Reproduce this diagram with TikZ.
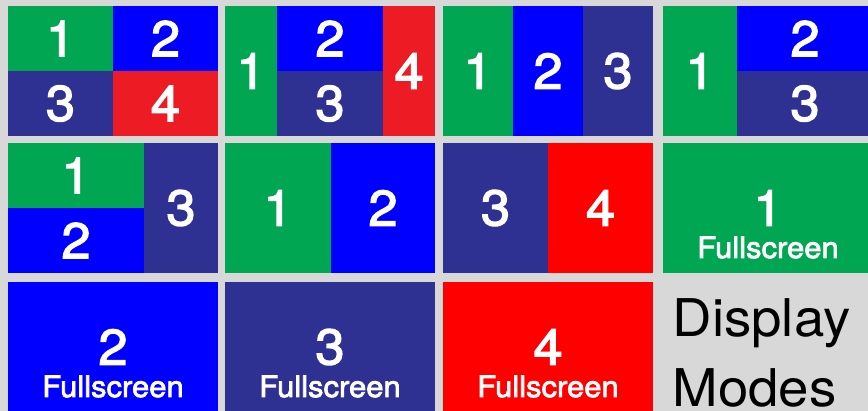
\documentclass[tikz,border=0pt]{standalone}
\usepackage{fontspec}
\setmainfont{TeX Gyre Heros}
\newfontfamily\tilefont[FakeBold=2.5, FakeStretch=1.05]{TeX Gyre Heros}
\newfontfamily\titlefont[FakeStretch=1.05]{TeX Gyre Heros}
\usepackage{tikz}
\usetikzlibrary{positioning}
\definecolor{bggray}{RGB}{216,216,216}
\definecolor{modegreen}{RGB}{0,166,81}
\definecolor{modeblue}{RGB}{0,0,255}
\definecolor{modenavy}{RGB}{46,49,146}
\definecolor{modered}{RGB}{237,28,36}
\definecolor{fullred}{RGB}{255,0,0}
\tikzset{
  tile/.style={anchor=north west, inner sep=0pt, outer sep=0pt,
    text=white, font=\tilefont\fontsize{50}{50}\selectfont},
  fslabel/.style={anchor=base, inner sep=0pt, text=white,
    font=\tilefont\fontsize{29.5}{30}\selectfont},
  title/.style={anchor=base west, inner sep=0pt, align=left,
    font=\titlefont\fontsize{52}{70}\selectfont}
}

\begin{document}
\begin{tikzpicture}[x=1pt, y=-1pt]
  \fill[bggray] (0,0) rectangle (868,411);
  \useasboundingbox (0,0) rectangle (868,411);
  \clip (0,0) rectangle (868,411);

  % Quad split
  \node[tile, fill=modegreen, minimum width=105pt, minimum height=65pt] (quad1) at (8,6) {1};
  \node[tile, fill=modeblue, minimum width=105pt, minimum height=65pt] (quad2) at (quad1.north east) {2};
  \node[tile, fill=modenavy, minimum width=105pt, minimum height=65pt] (quad3) at (quad1.south west) {3};
  \node[tile, fill=modered, minimum width=105pt, minimum height=65pt] (quad4) at (quad3.north east) {4};

  % Side columns with stacked middle
  \node[tile, fill=modegreen, minimum width=52pt, minimum height=130pt] (side1) at (225,6) {1};
  \node[tile, fill=modeblue, minimum width=106pt, minimum height=65pt] (side2) at (side1.north east) {2};
  \node[tile, fill=modenavy, minimum width=106pt, minimum height=65pt] (side3) at (side2.south west) {3};
  \node[tile, fill=modered, minimum width=52pt, minimum height=130pt] (side4) at (side2.north east) {4};

  % Three columns
  \node[tile, fill=modegreen, minimum width=70pt, minimum height=130pt] (tri1) at (443,6) {1};
  \node[tile, fill=modeblue, minimum width=70pt, minimum height=130pt] (tri2) at (tri1.north east) {2};
  \node[tile, fill=modenavy, minimum width=70pt, minimum height=130pt] (tri3) at (tri2.north east) {3};

  % Left column, right stack
  \node[tile, fill=modegreen, minimum width=74pt, minimum height=130pt] (lft1) at (663,6) {1};
  \node[tile, fill=modeblue, minimum width=136pt, minimum height=65pt] (lft2) at (lft1.north east) {2};
  \node[tile, fill=modenavy, minimum width=136pt, minimum height=65pt] (lft3) at (lft2.south west) {3};

  % Left stack, right column
  \node[tile, fill=modegreen, minimum width=136pt, minimum height=65pt] (rgt1) at (8,143) {1};
  \node[tile, fill=modeblue, minimum width=136pt, minimum height=65pt] (rgt2) at (rgt1.south west) {2};
  \node[tile, fill=modenavy, minimum width=74pt, minimum height=130pt] (rgt3) at (rgt1.north east) {3};

  % Two halves
  \node[tile, fill=modegreen, minimum width=106pt, minimum height=130pt] (duoA1) at (225,143) {1};
  \node[tile, fill=modeblue, minimum width=104pt, minimum height=130pt] (duoA2) at (duoA1.north east) {2};
  \node[tile, fill=modenavy, minimum width=105pt, minimum height=130pt] (duoB3) at (443,143) {3};
  \node[tile, fill=fullred, minimum width=105pt, minimum height=130pt] (duoB4) at (duoB3.north east) {4};

  % Fullscreen modes
  \node[tile, fill=modegreen, minimum width=210pt, minimum height=130pt] (full1) at (663,143) {1};
  \node[tile, fill=modeblue, minimum width=210pt, minimum height=130pt] (full2) at (8,282) {2};
  \node[tile, fill=modenavy, minimum width=210pt, minimum height=130pt] (full3) at (225,282) {3};
  \node[tile, fill=fullred, minimum width=210pt, minimum height=130pt] (full4) at (443,282) {4};
  \node[fslabel] (full1lbl) at ([yshift=-50pt]full1.center) {Fullscreen};
  \node[fslabel] (full2lbl) at ([yshift=-50pt]full2.center) {Fullscreen};
  \node[fslabel] (full3lbl) at ([yshift=-50pt]full3.center) {Fullscreen};
  \node[fslabel] (full4lbl) at ([yshift=-50pt]full4.center) {Fullscreen};

  \node[title] (modes) at (672.5,407) {Display\\Modes};
\end{tikzpicture}
\end{document}
